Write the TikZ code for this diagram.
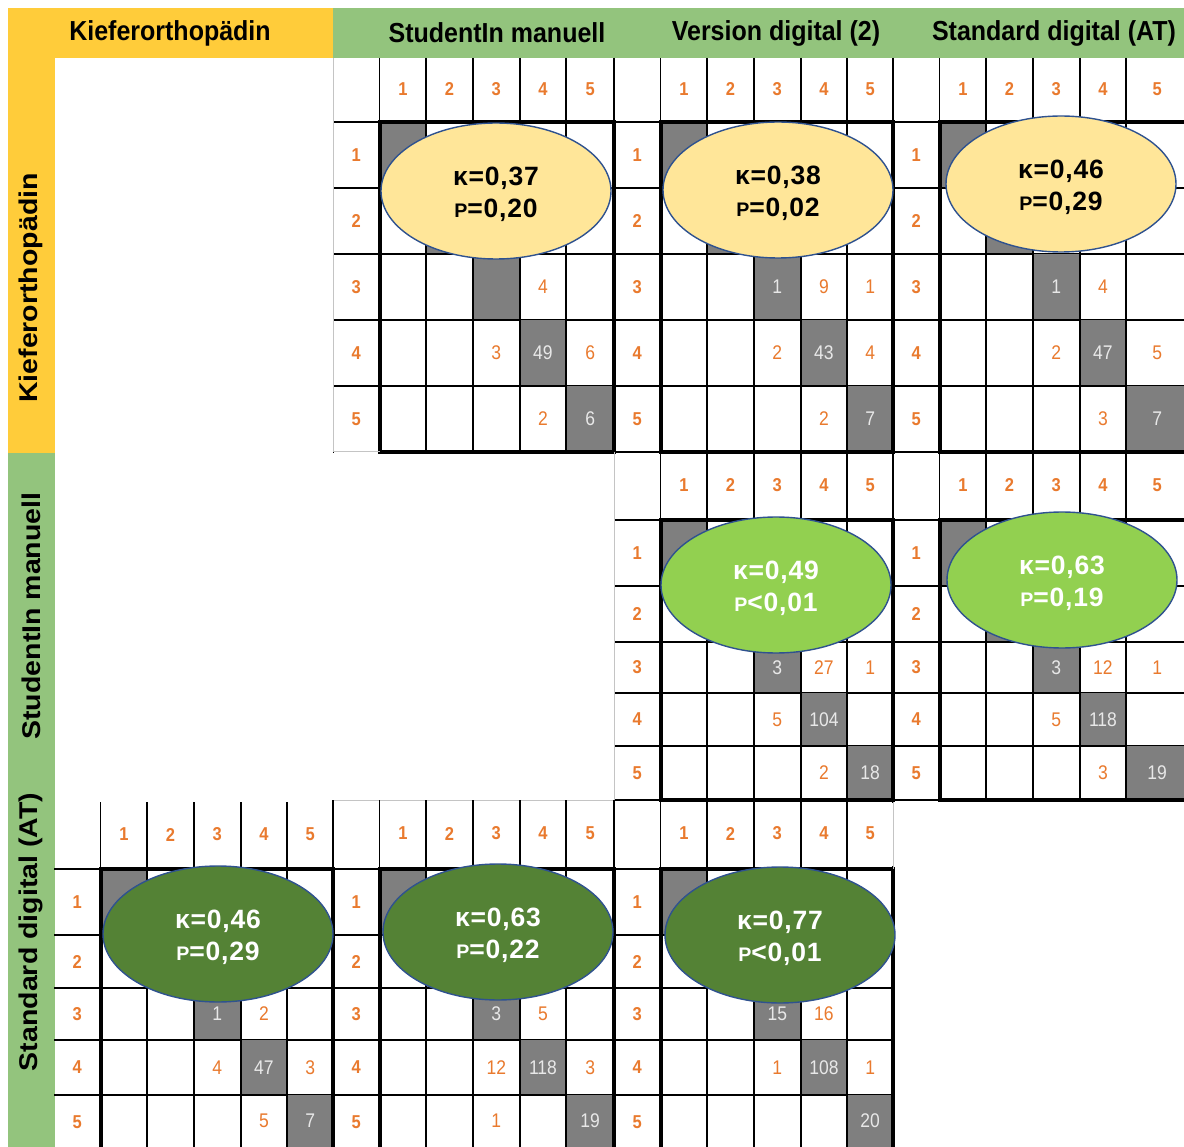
\documentclass[tikz,border=0pt]{standalone}
\usepackage{fontspec}
\setmainfont{Liberation Sans}
\usepackage{graphicx}
\usetikzlibrary{shapes.geometric}
\definecolor{cyellow}{HTML}{FFCC3A}
\definecolor{cgreenhd}{HTML}{93C47D}
\definecolor{corange}{HTML}{E97A2E}
\definecolor{cellgray}{HTML}{7F7F7F}
\definecolor{diagtxt}{HTML}{E8E8E8}
\definecolor{ellblue}{HTML}{2F528F}
\definecolor{elly}{HTML}{FFE699}
\definecolor{ellg}{HTML}{92D050}
\definecolor{elldg}{HTML}{548235}
\definecolor{lgray}{HTML}{C4C4C4}
\newcommand\sN[1]{\scalebox{1}[1.13]{#1}}
\newcommand\sH[1]{\scalebox{1}[1.1]{#1}}
\newcommand\sV[1]{\scalebox{1}[0.9]{#1}}
\newcommand\kap{κ}
\newcommand\pee{\scalebox{0.74}{P}}
\tikzset{
  thinln/.style={draw=black, line width=1.8},
  thickln/.style={draw=black, line width=4},
  edgegray/.style={draw=lgray, line width=1},
  edgenone/.style={draw=none},
  hdr/.style={text=corange, font=\bfseries\fontsize{16.5}{16.5}\selectfont, inner sep=0},
  off/.style={text=corange, font=\fontsize{17.5}{17.5}\selectfont, inner sep=0},
  dg/.style={text=diagtxt, font=\fontsize{17.5}{17.5}\selectfont, inner sep=0},
  hd/.style={font=\bfseries\fontsize{25}{25}\selectfont, inner sep=0},
  vd/.style={font=\bfseries\fontsize{28.5}{28.5}\selectfont, inner sep=0, rotate=90},
  ell/.style={ellipse, draw=ellblue, line width=1.4, minimum width=230, minimum height=136, inner sep=0},
  elltxt/.style={align=center, font=\bfseries\fontsize{26.5}{32}\selectfont\addfontfeatures{LetterSpace=3}, inner sep=0}
}
\newcommand{\cmtable}[9]{%
  \pgfmathsetmacro\cmL{#2+46.5}%
  \foreach \ya/\yb [count=\kk] in #7 {%
    \pgfmathsetmacro\xl{\cmL+46.7*(\kk-1)}%
    \pgfmathsetmacro\xr{\kk==5 ? #3 : \cmL+46.7*\kk}%
    \fill[cellgray] (\xl,\ya) rectangle (\xr,\yb);
    \ifnum\kk<5 \draw[thinln] (#2,\yb) -- (#3,\yb);\fi
    \node[hdr] (#1-r\kk) at ({#2+23.25},{(\ya+\yb)/2}) {\sN{\kk}};
  }%
  \draw[thinln] (#2,#5) -- (#3,#5);
  \draw[thinln] (#2,#6) -- (\cmL,#6);
  \draw[#9] (#2,#4) -- (#2,#6);
  \foreach \jj in {0,...,4} {\draw[thinln] ({\cmL+46.7*\jj},#4) -- ({\cmL+46.7*\jj},#5);}
  \draw[thinln] (#3,#4) -- (#3,#5);
  \foreach \jj in {1,...,4} {\draw[thinln] ({\cmL+46.7*\jj},#5) -- ({\cmL+46.7*\jj},#6);}
  \draw[thickln] (\cmL,#5) rectangle (#3,#6);
  \foreach \jj in {1,...,5} {%
    \pgfmathsetmacro\xc{\jj==5 ? (\cmL+46.7*4+#3)/2 : \cmL+46.7*(\jj-0.5)}%
    \node[hdr] (#1-h\jj) at (\xc,{(#4+#5)/2-1}) {\sN{\jj}};
  }%
  \foreach \cc/\yc/\vv/\sty [count=\nn] in {#8} {%
    \pgfmathsetmacro\xc{\cc==5 ? (\cmL+46.7*4+#3)/2 : \cmL+46.7*(\cc-0.5)}%
    \node[\sty] (#1-v\nn) at (\xc,\yc) {\sN{\vv}};
  }%
}
\def\rowsA{122/188,188/254,254/320,320/386,386/452}
\def\rowsB{520/586,586/642,642/693,693/746,746/800}
\def\rowsC{869/935,935/988,988/1040,1040/1095,1095/1150}
\begin{document}
\begin{tikzpicture}[x=1pt,y=-1pt]
\useasboundingbox (0,0) rectangle (1184,1147);
\clip (0,0) rectangle (1184,1147);
\fill[white] (0,0) rectangle (1184,1147);
% bands
\fill[cyellow] (8,8) rectangle (333,58);
\fill[cgreenhd] (333,8) rectangle (1184,58);
\fill[cyellow] (8,58) rectangle (55,453);
\fill[cgreenhd] (8,453) rectangle (55,1147);
\node[hd] (hK) at (170,33) {\sH{Kieferorthopädin}};
\node[hd] (hS) at (497,33) {\sH{StudentIn manuell}};
\node[hd] (hV) at (776,33) {\sH{Version digital (2)}};
\node[hd] (hA) at (1054,33) {\sH{Standard digital (AT)}};
\node[vd] (vK) at (31,288) {\sV{Kieferorthopädin}};
\node[vd] (vS) at (31,616) {\sV{StudentIn manuell}};
\node[vd] (vA) at (31,932) {\sV{Standard digital (AT)}};
% band A
\cmtable{t11}{333}{614}{58}{122}{452}{\rowsA}{4/287/4/off, 3/353/3/off, 4/353/49/dg, 5/353/6/off, 4/419/2/off, 5/419/6/dg}{edgegray}
\draw[white, line width=2] (334,452) -- (378,452);
\draw[edgegray] (333,452) -- (380,452);
\cmtable{t12}{614}{893}{58}{122}{452}{\rowsA}{3/287/1/dg, 4/287/9/off, 5/287/1/off, 3/353/2/off, 4/353/43/dg, 5/353/4/off, 4/419/2/off, 5/419/7/dg}{thinln}
\cmtable{t13}{893}{1188}{58}{122}{452}{\rowsA}{3/287/1/dg, 4/287/4/off, 3/353/2/off, 4/353/47/dg, 5/353/5/off, 4/419/3/off, 5/419/7/dg}{thinln}
% band B
\cmtable{t22}{614}{893}{452}{520}{800}{\rowsB}{3/667.5/3/dg, 4/667.5/27/off, 5/667.5/1/off, 3/719.5/5/off, 4/719.5/104/dg, 4/773/2/off, 5/773/18/dg}{edgegray}
\cmtable{t23}{893}{1188}{452}{520}{800}{\rowsB}{3/667.5/3/dg, 4/667.5/12/off, 5/667.5/1/off, 3/719.5/5/off, 4/719.5/118/dg, 4/773/3/off, 5/773/19/dg}{thinln}
% band C
\draw[edgegray] (333,800) -- (614,800);
\cmtable{t31}{54}{333}{802}{869}{1150}{\rowsC}{3/1014/1/dg, 4/1014/2/off, 3/1067.5/4/off, 4/1067.5/47/dg, 5/1067.5/3/off, 4/1121/5/off, 5/1121/7/dg}{edgenone}
\cmtable{t32}{333}{614}{800}{869}{1150}{\rowsC}{3/1014/3/dg, 4/1014/5/off, 3/1067.5/12/off, 4/1067.5/118/dg, 5/1067.5/3/off, 3/1121/1/off, 5/1121/19/dg}{thinln}
\cmtable{t33}{614}{893}{800}{869}{1150}{\rowsC}{3/1014/15/dg, 4/1014/16/off, 3/1067.5/1/off, 4/1067.5/108/dg, 5/1067.5/1/off, 5/1121/20/dg}{thinln}
\draw[white, line width=2] (893,803) -- (893,866);
\draw[edgegray] (893,802) -- (893,869);
\draw[thickln] (660.5,800) -- (893,800);
% ellipses
\node[ell, fill=elly] (e11) at (496,191) {};
\node[elltxt, text=black] (e11t) at (496,194) {\kap=0,37\\\pee=0,20};
\node[ell, fill=elly] (e12) at (778,190) {};
\node[elltxt, text=black] (e12t) at (778,193) {\kap=0,38\\\pee=0,02};
\node[ell, fill=elly] (e13) at (1061,184) {};
\node[elltxt, text=black] (e13t) at (1061,187) {\kap=0,46\\\pee=0,29};
\node[ell, fill=ellg] (e22) at (776,585) {};
\node[elltxt, text=white] (e22t) at (776,588) {\kap=0,49\\\pee<0,01};
\node[ell, fill=ellg] (e23) at (1062,580) {};
\node[elltxt, text=white] (e23t) at (1062,583) {\kap=0,63\\\pee=0,19};
\node[ell, fill=elldg] (e31) at (218,934) {};
\node[elltxt, text=white] (e31t) at (218,937) {\kap=0,46\\\pee=0,29};
\node[ell, fill=elldg] (e32) at (498,932) {};
\node[elltxt, text=white] (e32t) at (498,935) {\kap=0,63\\\pee=0,22};
\node[ell, fill=elldg] (e33) at (780,935) {};
\node[elltxt, text=white] (e33t) at (780,938) {\kap=0,77\\\pee<0,01};
\end{tikzpicture}
\end{document}
